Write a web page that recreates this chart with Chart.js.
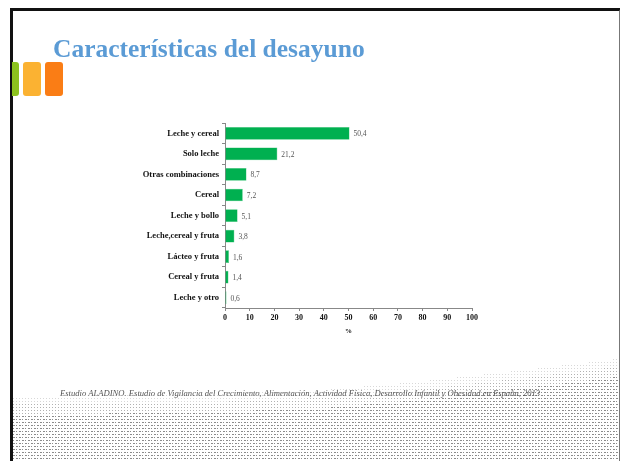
<!DOCTYPE html>
<html>
<head>
<meta charset="utf-8">
<script src="https://cdn.jsdelivr.net/npm/chart.js@4/dist/chart.umd.min.js"></script>
<style>
  html, body { margin: 0; padding: 0; background: #fff; }
  body { width: 620px; height: 461px; position: relative; overflow: hidden; }
  #frame { position: absolute; left: 10px; top: 8px; width: 606px; height: 470px;
           border-top: 3px solid #111; border-left: 3px solid #111; border-right: 2px solid #777; }
  #dots { position: absolute; left: 0; top: 0; }
  .blk { position: absolute; top: 62px; height: 34px; border-radius: 3px; }
  #title { position: absolute; left: 53px; top: 34px; font-family: "Liberation Serif", serif;
           font-weight: bold; font-size: 25.5px; color: #5B9BD5; white-space: nowrap; }
  #chartBox { position: absolute; left: 130px; top: 115px; }
  #source { position: absolute; left: 60px; top: 388px; font-family: "Liberation Serif", serif;
            font-style: italic; font-size: 8.6px; color: #555; white-space: nowrap; }
</style>
</head>
<body>
<canvas id="dots" width="620" height="461"></canvas>
<div id="frame"></div>
<div class="blk" style="left:12px;width:7px;background:#8CC21E;border-radius:0 3px 3px 0;"></div>
<div class="blk" style="left:23px;width:18px;background:#FBB232;"></div>
<div class="blk" style="left:45px;width:18px;background:#FA7D15;"></div>
<div id="title">Características del desayuno</div>
<div id="chartBox"><canvas id="chart" width="360" height="225"></canvas></div>
<div id="source">Estudio ALADINO. Estudio de Vigilancia del Crecimiento, Alimentación, Actividad Física, Desarrollo Infantil y Obesidad en España, 2013</div>
<script>
// Datos del gráfico
const categories = ['Leche y cereal', 'Solo leche', 'Otras combinaciones', 'Cereal', 'Leche y bollo',
                    'Leche,cereal y fruta', 'Lácteo y fruta', 'Cereal y fruta', 'Leche y otro'];
const values = [50.4, 21.2, 8.7, 7.2, 5.1, 3.8, 1.6, 1.4, 0.6];
const xAxisTitle = '%';

// Fondo de puntos (decoración de la diapositiva)
function drawDots() {
    const ctx = document.getElementById('dots').getContext('2d');
    // borde superior de la zona punteada: puntos (x, y)
    const edge = [[12, 404], [200, 402], [330, 397], [420, 389], [500, 380], [570, 372], [618, 366]];
    function edgeY(x) {
        for (let i = 0; i < edge.length - 1; i++) {
            const a = edge[i], b = edge[i + 1];
            if (x >= a[0] && x <= b[0]) return a[1] + (b[1] - a[1]) * (x - a[0]) / (b[0] - a[0]);
        }
        return edge[edge.length - 1][1];
    }
    for (let x = 13; x < 617; x += 3) {
        const top = edgeY(x);
        for (let y = 461; y > top - 8; y -= 3) {
            const d = y - top;
            let alpha = d > 10 ? 0.75 : (d > 0 ? 0.5 : 0.25);
            ctx.fillStyle = 'rgba(100,100,100,' + alpha + ')';
            ctx.fillRect(x, y, 1, 1);
            if (d > 10 && (x + y) % 2 === 0) ctx.fillRect(x + 1, y, 1, 1);
        }
    }
}
drawDots();

const valueLabels = {
    id: 'valueLabels',
    afterDatasetsDraw(chart) {
        const ctx = chart.ctx;
        const meta = chart.getDatasetMeta(0);
        ctx.save();
        ctx.font = '7.5px "Liberation Serif"';
        ctx.fillStyle = '#555';
        ctx.textBaseline = 'middle';
        meta.data.forEach((bar, i) => {
            ctx.fillText(values[i].toFixed(1).replace('.', ','), bar.x + 4, bar.y + 1);
        });
        ctx.restore();
    }
};

const ctx = document.getElementById('chart').getContext('2d');
new Chart(ctx, {
    type: 'bar',
    data: {
        labels: categories,
        datasets: [{
            data: values,
            backgroundColor: '#00B050',
            borderColor: '#3cc476',
            borderWidth: 0.5,
            categoryPercentage: 1,
            barPercentage: 0.62
        }]
    },
    options: {
        indexAxis: 'y',
        responsive: false,
        animation: false,
        layout: { padding: { top: 5, right: 18, left: 0, bottom: 5 } },
        plugins: { legend: { display: false }, tooltip: { enabled: false } },
        scales: {
            x: {
                min: 0,
                max: 100,
                ticks: { stepSize: 10, color: '#111', padding: 2,
                         font: { family: 'Liberation Serif', weight: 'bold', size: 8 } },
                grid: { drawOnChartArea: false, tickLength: 3, color: '#888' },
                border: { color: '#888' },
                title: { display: true, text: xAxisTitle, color: '#111', padding: { top: 0, bottom: 0 },
                         font: { family: 'Liberation Serif', weight: 'bold', size: 7 } },
                afterFit(scale) { scale.height = 27; }
            },
            y: {
                ticks: { color: '#111', padding: 3,
                         font: { family: 'Liberation Serif', weight: 'bold', size: 8.5 } },
                grid: { drawOnChartArea: false, tickLength: 3, color: '#888', offset: true },
                border: { color: '#888' },
                afterFit(scale) { scale.width = 95; }
            }
        }
    },
    plugins: [valueLabels]
});
</script>
</body>
</html>
